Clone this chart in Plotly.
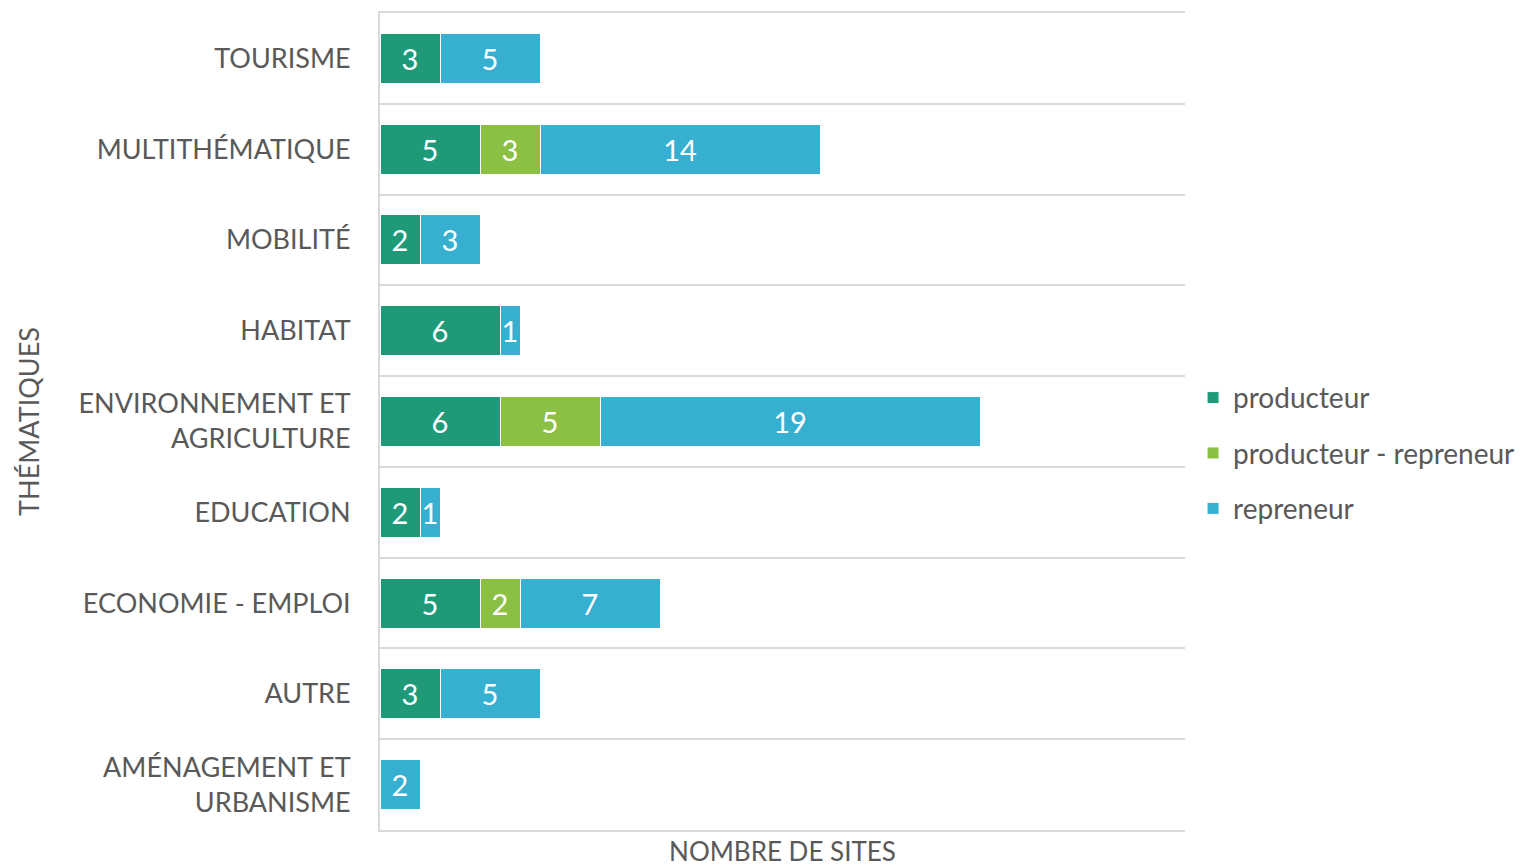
import plotly.graph_objects as go

categories = [
    "TOURISME",
    "MULTITHÉMATIQUE",
    "MOBILITÉ",
    "HABITAT",
    "ENVIRONNEMENT ET<br>AGRICULTURE",
    "EDUCATION",
    "ECONOMIE - EMPLOI",
    "AUTRE",
    "AMÉNAGEMENT ET<br>URBANISME",
]
producteur = [3, 5, 2, 6, 6, 2, 5, 3, None]
producteur_repreneur = [None, 3, None, None, 5, None, 2, None, None]
repreneur = [5, 14, 3, 1, 19, 1, 7, 5, 2]

series = [
    ("producteur", producteur, "#1E9A78"),
    ("producteur - repreneur", producteur_repreneur, "#8CC045"),
    ("repreneur", repreneur, "#36AFD0"),
]

FONT = "Lato, 'Open Sans', sans-serif"
TXT = "#595959"
GRID = "#D9D9D9"

fig = go.Figure()
for name, vals, color in series:
    fig.add_trace(go.Bar(
        name=name,
        y=categories,
        x=vals,
        orientation="h",
        marker=dict(color=color, line=dict(color="white", width=1)),
        text=[("" if v is None else str(v)) for v in vals],
        textposition="inside",
        insidetextanchor="middle",
        textangle=0,
        constraintext="none",
        textfont=dict(family=FONT, size=29, color="white"),
        legendgroup=name,
        hoverinfo="skip",
    ))

# page body has an 8px margin, so the figure is sized to fill the rest of the window
fig.update_layout(
    barmode="stack",
    bargap=0.45,
    width=1529,
    height=859,
    margin=dict(l=372, r=352, t=5, b=37, autoexpand=False),
    paper_bgcolor="white",
    plot_bgcolor="white",
    font=dict(family=FONT, color=TXT),
    uniformtext=dict(minsize=29, mode="show"),
    legend=dict(
        x=1.01, y=0.461, xanchor="left", yanchor="middle",
        font=dict(family=FONT, size=28, color=TXT),
        tracegroupgap=16,
        traceorder="grouped",
    ),
    xaxis=dict(
        range=[0, 40.25],
        showgrid=False,
        zeroline=False,
        showticklabels=False,
        ticks="",
        showline=True,
        linecolor=GRID,
        linewidth=2,
        mirror=True,
        title=dict(text="NOMBRE DE SITES", font=dict(family=FONT, size=26, color=TXT), standoff=12),
        automargin=False,
    ),
    yaxis=dict(
        autorange="reversed",
        type="category",
        tickson="boundaries",
        showgrid=True,
        gridcolor=GRID,
        gridwidth=2,
        ticks="",
        showline=True,
        linecolor=GRID,
        linewidth=2,
        ticklabelstandoff=22,
        tickfont=dict(family=FONT, size=27, color=TXT),
        title=dict(text="THÉMATIQUES", font=dict(family=FONT, size=27, color=TXT), standoff=31),
        automargin=False,
    ),
)

fig.write_html("out.html")
